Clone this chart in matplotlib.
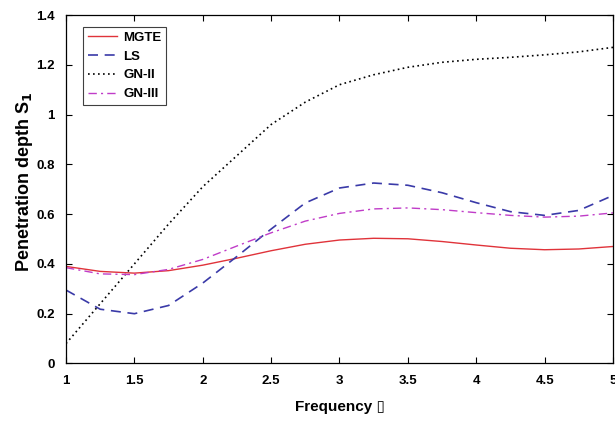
import numpy as np
import matplotlib.pyplot as plt

# frequency grid and penetration depth for each thermoelastic model
freq = [1.0, 1.25, 1.5, 1.75, 2.0, 2.25, 2.5, 2.75, 3.0, 3.25, 3.5, 3.75, 4.0, 4.25, 4.5, 4.75, 5.0]
mgte = [0.39, 0.37, 0.363, 0.373, 0.395, 0.423, 0.453, 0.479, 0.496, 0.503, 0.501, 0.49, 0.476, 0.463, 0.457, 0.46, 0.47]
ls = [0.295, 0.218, 0.2, 0.233, 0.323, 0.43, 0.54, 0.645, 0.705, 0.725, 0.716, 0.686, 0.646, 0.61, 0.595, 0.615, 0.675]
gn2 = [0.08, 0.24, 0.40, 0.56, 0.71, 0.835, 0.96, 1.05, 1.12, 1.16, 1.19, 1.21, 1.222, 1.23, 1.24, 1.252, 1.27]
gn3 = [0.385, 0.36, 0.357, 0.378, 0.418, 0.472, 0.525, 0.572, 0.603, 0.621, 0.625, 0.618, 0.606, 0.595, 0.588, 0.592, 0.605]

xticks = [1, 1.5, 2, 2.5, 3, 3.5, 4, 4.5, 5]
xticklabels = ['1', '1.5', '2', '2.5', '3', '3.5', '4', '4.5', '5']
yticks = [0, 0.2, 0.4, 0.6, 0.8, 1.0, 1.2, 1.4]
yticklabels = ['0', '0.2', '0.4', '0.6', '0.8', '1', '1.2', '1.4']

plt.rcParams['font.family'] = ['Liberation Sans', 'DejaVu Sans']
plt.rcParams['font.weight'] = 'bold'

fig = plt.figure(figsize=(6.15, 4.23), dpi=100)
ax = fig.add_axes([0.1073, 0.1407, 0.8894, 0.8238])

ax.plot(freq, mgte, color='#e0333a', lw=1.0, ls='-', label='MGTE')
ax.plot(freq, ls, color='#3a3aa8', lw=1.2, ls=(0, (6, 4)), label='LS')
ax.plot(freq, gn2, color='black', lw=1.2, ls=(0, (1, 2)), label='GN-II')
ax.plot(freq, gn3, color='#c03cc8', lw=1.0, ls=(0, (6, 3, 1.5, 3)), label='GN-III')

ax.set_xlim(1, 5)
ax.set_ylim(0, 1.4)
ax.set_xticks(xticks)
ax.set_xticklabels(xticklabels)
ax.set_yticks(yticks)
ax.set_yticklabels(yticklabels)
ax.tick_params(direction='in', length=4, width=0.8, top=True, right=True,
               labelsize=9.5)
ax.tick_params(axis='x', pad=8)
ax.tick_params(axis='y', pad=8)
for sp in ax.spines.values():
    sp.set_linewidth(0.9)

ax.set_xlabel('Frequency \u25af', fontsize=11, fontweight='bold', labelpad=10)
ax.set_ylabel('Penetration depth S$_\\mathbf{1}$', fontsize=13, fontweight='bold')
ax.yaxis.set_label_coords(-0.057, 0.52)

leg = ax.legend(loc='upper left', bbox_to_anchor=(0.031, 0.966), borderaxespad=0,
                fontsize=9.5, handlelength=2.2, labelspacing=0.5, borderpad=0.35,
                handletextpad=0.5, fancybox=False, framealpha=1)
leg.get_frame().set_edgecolor('#404040')
leg.get_frame().set_linewidth(0.8)

fig.savefig('out.png', dpi=100)
